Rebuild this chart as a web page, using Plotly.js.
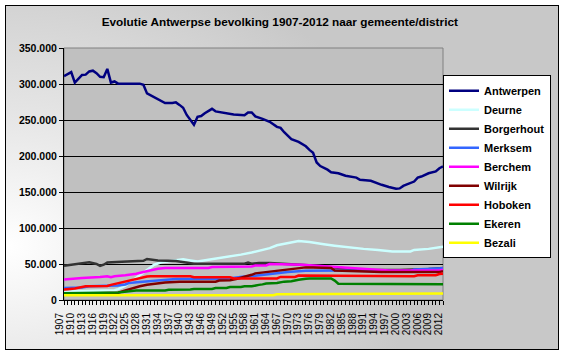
<!DOCTYPE html>
<html>
<head>
<meta charset="utf-8">
<script src="https://cdn.plot.ly/plotly-3.0.1.min.js"></script>
<style>
  html, body { margin: 0; padding: 0; background: #ffffff; }
  #wrap { position: relative; width: 563px; height: 355px; overflow: hidden; }
  #bg { position: absolute; left: 5px; top: 5px; width: 552px; height: 343px; border: 1px solid #000;
        background: radial-gradient(ellipse 75% 90% at 0% 70%, #ffffff 0%, #e4e4e4 45%, #c8c8c8 100%); }
  #chart { position: absolute; left: 0; top: 0; width: 563px; height: 355px; }
</style>
</head>
<body>
<div id="wrap"><div id="bg"></div><div id="chart"></div></div>
<script>
const seriesNames = ["Antwerpen","Deurne","Borgerhout","Merksem","Berchem","Wilrijk","Hoboken","Ekeren","Bezali"];
const seriesColors = ["#000080","#CCFFFF","#333333","#3366FF","#FF00FF","#800000","#FF0000","#008000","#FFFF00"];

const antwerpenYears = [1907,1908,1909,1910,1911,1912,1913,1914,1915,1916,1917,1918,1919,1920,1921,1922,1928,1929,1930,1932,1934,1935,1937,1938,1939,1940,1941,1942,1943,1944,1945,1946,1948,1949,1951,1952,1954,1957,1958,1959,1960,1962,1964,1966,1967,1968,1969,1970,1972,1974,1975,1976,1977,1978,1980,1981,1983,1985,1988,1989,1992,1993,1995,1997,1999,2000,2001,2002,2003,2004,2005,2006,2008,2009,2010,2011,2012];
const antwerpenValues = [311000,314000,316500,302000,307000,312500,313000,317500,318500,315000,310000,309500,321000,302000,303500,300500,300500,299000,287000,282000,277000,273500,273500,274500,271000,267000,257000,250500,243500,254500,255500,259500,265500,262000,260500,259500,257500,256500,260500,260500,255000,251500,247500,240500,239000,233000,228000,223500,219500,213500,208500,204500,191000,186000,181000,177500,176000,172500,170000,167000,165500,163500,160000,157000,154500,155000,158500,160500,162500,164500,170000,171500,176000,177500,178500,183000,185500];

const deurneYears = [1907,1910,1915,1921,1922,1924,1926,1928,1930,1932,1934,1937,1940,1942,1944,1947,1950,1952,1956,1959,1962,1964,1966,1968,1971,1972,1975,1977,1979,1982,1985,1990,1994,1998,2003,2004,2008,2010,2011,2012];
const deurneValues = [10500,12000,13000,13500,15000,20000,27000,34000,42000,49000,52500,55000,56500,55000,53500,56000,58000,59500,63000,66000,69500,72000,76000,78000,81500,82000,80500,79500,77500,75500,73500,71000,69500,67500,67500,69500,71000,72000,73500,74000];

const borgerhoutYears = [1907,1909,1912,1914,1916,1917,1918,1919,1923,1929,1930,1933,1938,1941,1943,1957,1958,1959,1961,1964,1968,1973,1977,1982,1990,2000,2004,2008,2012];
const borgerhoutValues = [47500,49000,51500,52500,50000,47500,49000,52000,53000,54500,57000,55000,54000,51500,50500,50500,52000,50500,51500,51500,50500,49500,47500,45000,42000,41500,42000,43000,44500];

const merksemYears = [1907,1912,1914,1919,1922,1924,1925,1928,1930,1933,1936,1938,1952,1954,1957,1960,1962,1964,1966,1969,1971,1974,1985,1998,2003,2004,2010,2012];
const merksemValues = [16500,17500,19000,19000,20000,21500,23500,25000,26000,27200,28200,29200,29500,31000,32800,33700,35000,36000,37500,38900,39700,40700,41000,40000,40000,42500,43000,44000];

const berchemYears = [1907,1909,1912,1917,1919,1920,1921,1924,1927,1929,1931,1933,1935,1947,1948,1952,1953,1959,1960,1963,1964,1972,1973,1976,1979,1980,1984,1988,1994,1997,2011,2012];
const berchemValues = [28500,29500,30500,32000,33000,31500,33000,34500,36500,39000,41500,43500,44500,44500,45800,46000,46700,46700,48000,48000,50000,50000,49000,48000,47000,46000,45000,43000,42000,41000,41000,42000];

const wilrijkYears = [1907,1921,1922,1924,1926,1928,1930,1932,1935,1939,1949,1950,1953,1955,1957,1959,1960,1963,1966,1968,1971,1974,1976,1981,1982,1988,1989,1994,1995,2011,2012];
const wilrijkValues = [8000,9000,10000,13300,16500,19000,21300,22600,24400,25400,25400,27000,27500,29500,32000,35000,37000,39000,41000,42000,43500,45300,45000,44500,41000,40500,40000,40000,39000,39000,40000];

const hobokenYears = [1907,1910,1913,1919,1920,1922,1924,1926,1928,1930,1931,1942,1943,1953,1954,1966,1967,1971,1972,1984,1985,2004,2005,2010,2011,2012];
const hobokenValues = [14500,16000,19000,19500,21000,23500,25800,28200,30500,32500,33000,33000,31500,31500,30000,30000,32000,32000,34000,34000,33000,33000,34300,34300,36000,36500];

const ekerenYears = [1907,1921,1922,1925,1927,1935,1936,1942,1943,1948,1949,1952,1953,1956,1957,1959,1960,1961,1962,1963,1966,1967,1968,1970,1971,1972,1974,1975,1981,1982,1983,2012];
const ekerenValues = [9500,9500,10500,12000,13300,13300,14300,14500,15300,15300,16700,16700,18000,18000,19000,19000,20300,21000,21700,23000,23600,24400,25500,26000,27200,28000,29500,30000,30000,27000,22500,22000];

const bezaliYears = [1907,1965,1966,1989,1990,2012];
const bezaliValues = [6500,6500,8000,8000,9000,9000];

const allYears = [antwerpenYears,deurneYears,borgerhoutYears,merksemYears,berchemYears,wilrijkYears,hobokenYears,ekerenYears,bezaliYears];
const allValues = [antwerpenValues,deurneValues,borgerhoutValues,merksemValues,berchemValues,wilrijkValues,hobokenValues,ekerenValues,bezaliValues];

const traces = seriesNames.map((n, i) => ({
  type: 'scatter', mode: 'lines', name: n,
  x: allYears[i], y: allValues[i],
  line: { color: seriesColors[i], width: 2.5 }
}));

const layout = {
  width: 563, height: 355,
  paper_bgcolor: 'rgba(0,0,0,0)',
  plot_bgcolor: '#C0C0C0',
  separators: ',.',
  margin: { l: 64, r: 111, t: 48, b: 55, pad: 0 },
  font: { family: 'Liberation Sans, Arial, sans-serif', color: '#000' },
  title: {
    text: 'Evolutie Antwerpse bevolking 1907-2012 naar gemeente/district',
    font: { size: 11.8, weight: 'bold', color: '#000' },
    x: 0.497, xanchor: 'center', xref: 'container',
    y: 1 - 22/355, yanchor: 'middle', yref: 'container'
  },
  xaxis: {
    range: [1907, 2012], tick0: 1907, dtick: 3,
    showgrid: false, zeroline: false,
    showline: true, linecolor: '#000', linewidth: 1,
    ticks: 'outside', ticklen: 4, tickcolor: '#000',
    tickangle: -90, tickfont: { size: 10 },
    ticklabelshift: -4, ticklabelstandoff: 4,
    minor: { dtick: 1, tick0: 1907, ticks: 'outside', ticklen: 4, tickcolor: '#000', showgrid: false }
  },
  yaxis: {
    range: [0, 350000], dtick: 50000, tickformat: ',d',
    showgrid: true, gridcolor: '#000', gridwidth: 1,
    zeroline: false,
    showline: true, linecolor: '#000', linewidth: 1,
    ticks: 'outside', ticklen: 4, tickcolor: '#000',
    tickfont: { size: 10.5, weight: 'bold' }
  },
  shapes: [{
    type: 'rect', xref: 'paper', yref: 'paper', x0: 0, x1: 1, y0: 0, y1: 1,
    line: { color: '#808080', width: 1 }, layer: 'below'
  }],
  showlegend: true,
  legend: {
    x: 1.0, xanchor: 'left', y: (300.3 - 75.5) / 252, yanchor: 'top',
    bgcolor: '#ffffff', bordercolor: '#000', borderwidth: 1,
    font: { size: 11, weight: 'bold', color: '#000' },
    tracegroupgap: 0, itemwidth: 30
  }
};

Plotly.newPlot('chart', traces, layout, { displayModeBar: false, staticPlot: true });
</script>
</body>
</html>
